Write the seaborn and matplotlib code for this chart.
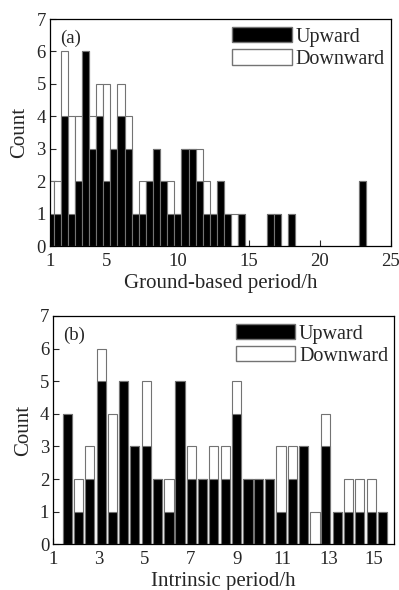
import matplotlib.pyplot as plt
import pandas as pd
import seaborn as sns
from matplotlib.patches import Patch

# (a) ground-based period, counts per 0.5 h bin
ground_period = [1.0, 1.5, 2.0, 2.5, 3.0, 3.5, 4.0, 4.5, 5.0, 5.5, 6.0, 6.5,
                 7.0, 7.5, 8.0, 8.5, 9.0, 9.5, 10.0, 10.5, 11.0, 11.5, 12.0,
                 12.5, 13.0, 13.5, 14.0, 14.5, 16.5, 17.0, 18.0, 23.0]
ground_up = [1, 1, 4, 1, 2, 6, 3, 4, 2, 3, 4, 3, 1, 1, 2, 3, 2, 1, 1, 3,
             3, 2, 1, 1, 2, 1, 0, 1, 1, 1, 1, 2]
ground_down = [1, 1, 2, 3, 2, 0, 1, 1, 3, 0, 1, 1, 0, 1, 0, 0, 0, 1, 0, 0,
               0, 1, 1, 0, 0, 0, 1, 0, 0, 0, 0, 0]

# (b) intrinsic period
intrinsic_period = [1.62, 2.1, 2.58, 3.11, 3.6, 4.08, 4.55, 5.05, 5.54, 6.05,
                    6.53, 7.03, 7.5, 8.0, 8.5, 9.0, 9.5, 9.96, 10.43, 10.94,
                    11.43, 11.92, 12.42, 12.89, 13.39, 13.87, 14.37, 14.87, 15.37]
intrinsic_up = [4, 1, 2, 5, 1, 5, 3, 3, 2, 1, 5, 2, 2, 2, 2, 4, 2, 2, 2, 1,
                2, 3, 0, 3, 1, 1, 1, 1, 1]
intrinsic_down = [0, 1, 1, 1, 3, 0, 0, 2, 0, 1, 0, 1, 0, 1, 1, 1, 0, 0, 0, 2,
                  1, 0, 1, 1, 0, 1, 1, 1, 0]

sns.set_style('ticks')
plt.rcParams['font.family'] = ['Liberation Serif', 'DejaVu Serif']

EDGE = '0.45'


def draw_panel(ax, period, up, down, width, xlim, xticks, xlabel, tag):
    df = pd.DataFrame({'period': period, 'up': up, 'down': down})
    df['total'] = df['up'] + df['down']

    # white = all events (stacked top), black = upward part
    sns.barplot(data=df, x='period', y='total', native_scale=True, orient='x',
                color='white', saturation=1, width=width, errorbar=None,
                edgecolor=EDGE, linewidth=0.8, ax=ax)
    sns.barplot(data=df, x='period', y='up', native_scale=True, orient='x',
                color='black', saturation=1, width=width, errorbar=None,
                edgecolor=EDGE, linewidth=0.8, ax=ax)

    ax.set_xlim(*xlim)
    ax.set_ylim(0, 7)
    ax.set_xticks(xticks)
    ax.set_xticklabels([str(t) for t in xticks])
    ax.set_yticks(range(8))
    ax.tick_params(direction='in', length=4, width=0.8, labelsize=13.5)
    ax.tick_params(axis='y', pad=3)
    ax.tick_params(axis='x', pad=5)
    for s in ax.spines.values():
        s.set_linewidth(0.9)
        s.set_color('black')
    ax.set_xlabel(xlabel, fontsize=15, labelpad=3)
    ax.set_ylabel('Count', fontsize=15, labelpad=5)
    ax.text(0.03, 0.915, tag, transform=ax.transAxes, fontsize=13.5,
            ha='left', va='center')

    handles = [Patch(facecolor='black', edgecolor=EDGE),
               Patch(facecolor='white', edgecolor=EDGE)]
    ax.legend(handles, ['Upward', 'Downward'], loc='upper left',
              bbox_to_anchor=(0.535, 0.965), frameon=False, fontsize=14.5,
              handlelength=2.95, handleheight=0.8, handletextpad=0.2,
              labelspacing=0.12, borderpad=0, borderaxespad=0)


fig = plt.figure(figsize=(3.99, 5.90), dpi=100)
ax1 = fig.add_axes([0.1253, 0.583, 0.8546, 0.3847])
ax2 = fig.add_axes([0.1336, 0.0775, 0.854, 0.387])

draw_panel(ax1, ground_period, ground_up, ground_down, 1.0, (1, 25),
           [1, 5, 10, 15, 20, 25], 'Ground-based period/h', '(a)')
draw_panel(ax2, intrinsic_period, intrinsic_up, intrinsic_down, 0.87,
           (1, 15.87), [1, 3, 5, 7, 9, 11, 13, 15], 'Intrinsic period/h', '(b)')

fig.savefig('out.png', dpi=100)
